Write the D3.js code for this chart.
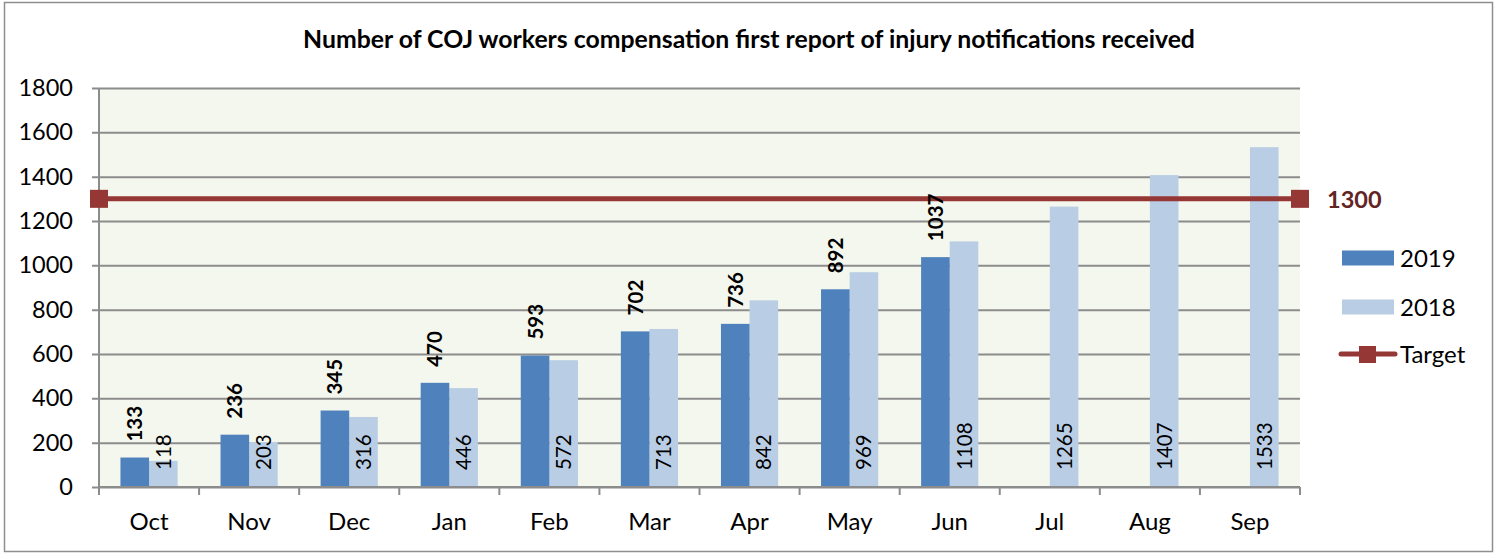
<!DOCTYPE html>
<html>
<head>
<meta charset="utf-8">
<script src="https://cdn.jsdelivr.net/npm/d3@7"></script>
<style>
  body { margin: 0; background: #fff; }
  svg { display: block; font-family: Lato, "Open Sans", sans-serif; }
</style>
</head>
<body>
<div id="container"></div>
<script>
const months = ["Oct", "Nov", "Dec", "Jan", "Feb", "Mar", "Apr", "May", "Jun", "Jul", "Aug", "Sep"];
const series = ["2019", "2018"];
const values2019 = [133, 236, 345, 470, 593, 702, 736, 892, 1037];
const values2018 = [118, 203, 316, 446, 572, 713, 842, 969, 1108, 1265, 1407, 1533];
const target = 1300;
const yTicks = [0, 200, 400, 600, 800, 1000, 1200, 1400, 1600, 1800];
const title = "Number of COJ workers compensation first report of injury notifications received";

const w = 1501;
const h = 554;
const plot = { left: 99, right: 1300, top: 88, bottom: 487 };
const colors = { "2019": "#4f81bd", "2018": "#b9cde5", target: "#953735" };

const svg = d3.select("div#container")
  .append("svg")
  .attr("width", w)
  .attr("height", h);

// chart border
svg.append("rect")
  .attr("x", 4.5).attr("y", 2.5)
  .attr("width", 1488).attr("height", 549)
  .attr("fill", "#fff")
  .attr("stroke", "#8e8e8e")
  .attr("stroke-width", 1.5);

svg.append("text")
  .attr("x", 749).attr("y", 48)
  .attr("text-anchor", "middle")
  .attr("font-weight", "bold")
  .attr("font-size", 24.8)
  .text(title);

const xScale = d3.scaleBand()
  .domain(months)
  .range([plot.left, plot.right]);

const xInner = d3.scaleBand()
  .domain(series)
  .range([0, xScale.bandwidth()])
  .paddingOuter(0.75);

const yScale = d3.scaleLinear()
  .domain([0, 1800])
  .range([plot.bottom, plot.top]);

// plot background
svg.append("rect")
  .attr("x", plot.left).attr("y", plot.top)
  .attr("width", plot.right - plot.left)
  .attr("height", plot.bottom - plot.top)
  .attr("fill", "#f4f7ee");

// y axis with gridlines
const yAxis = d3.axisLeft(yScale)
  .tickValues(yTicks)
  .tickSize(-(plot.right - plot.left))
  .tickPadding(26)
  .tickFormat(d3.format("d"));

const gy = svg.append("g")
  .attr("transform", "translate(" + plot.left + ",0)")
  .call(yAxis);
gy.select(".domain").remove();
gy.selectAll(".tick line")
  .attr("x1", -7)
  .attr("stroke", "#8c8c8c")
  .attr("stroke-width", 2);
gy.selectAll(".tick text")
  .attr("font-size", 23.5)
  .attr("font-family", "Lato, sans-serif")
  .attr("fill", "#000");

svg.append("line")
  .attr("x1", plot.left).attr("x2", plot.left)
  .attr("y1", plot.top).attr("y2", plot.bottom)
  .attr("stroke", "#8c8c8c")
  .attr("stroke-width", 2);

// 2018 bars
svg.selectAll("rect.b2018")
  .data(values2018)
  .enter()
  .append("rect")
  .classed("b2018", true)
  .attr("x", (d, i) => xScale(months[i]) + xInner("2018"))
  .attr("y", d => yScale(d))
  .attr("width", xInner.bandwidth())
  .attr("height", d => plot.bottom - yScale(d))
  .attr("fill", colors["2018"]);

// 2019 bars
svg.selectAll("rect.b2019")
  .data(values2019)
  .enter()
  .append("rect")
  .classed("b2019", true)
  .attr("x", (d, i) => xScale(months[i]) + xInner("2019"))
  .attr("y", d => yScale(d))
  .attr("width", xInner.bandwidth())
  .attr("height", d => plot.bottom - yScale(d))
  .attr("fill", colors["2019"]);

// x axis
const xTickPos = months.map(m => xScale(m)).concat([plot.right]);
svg.append("line")
  .attr("x1", plot.left).attr("x2", plot.right)
  .attr("y1", plot.bottom).attr("y2", plot.bottom)
  .attr("stroke", "#8c8c8c")
  .attr("stroke-width", 2);
svg.selectAll("line.xtick")
  .data(xTickPos)
  .enter()
  .append("line")
  .attr("x1", d => d).attr("x2", d => d)
  .attr("y1", plot.bottom).attr("y2", plot.bottom + 8)
  .attr("stroke", "#8c8c8c")
  .attr("stroke-width", 2);
svg.selectAll("text.month")
  .data(months)
  .enter()
  .append("text")
  .attr("x", d => xScale(d) + xScale.bandwidth() / 2)
  .attr("y", 530)
  .attr("text-anchor", "middle")
  .attr("font-size", 24)
  .text(d => d);

// target line
svg.append("line")
  .attr("x1", plot.left).attr("x2", plot.right)
  .attr("y1", yScale(target)).attr("y2", yScale(target))
  .attr("stroke", colors.target)
  .attr("stroke-width", 5);
svg.selectAll("rect.tmark")
  .data([plot.left, plot.right])
  .enter()
  .append("rect")
  .attr("x", d => d - 9)
  .attr("y", yScale(target) - 9)
  .attr("width", 18).attr("height", 18)
  .attr("fill", colors.target);
svg.append("text")
  .attr("x", 1327)
  .attr("y", yScale(target) + 9)
  .attr("font-size", 23.5)
  .attr("font-weight", "bold")
  .attr("fill", "#632523")
  .text(target);

// data labels (drawn on top)
svg.selectAll("text.l2019")
  .data(values2019)
  .enter()
  .append("text")
  .attr("transform", (d, i) => "translate(" + (xScale(months[i]) + xInner("2019") + xInner.bandwidth() / 2 + 7.5) + "," + (yScale(d) - 16) + ") rotate(-90)")
  .attr("font-size", 20.5)
  .attr("font-weight", "bold")
  .text(d => d);

svg.selectAll("text.l2018")
  .data(values2018)
  .enter()
  .append("text")
  .attr("transform", (d, i) => "translate(" + (xScale(months[i]) + xInner("2018") + xInner.bandwidth() / 2 + 7.5) + "," + (plot.bottom - 17) + ") rotate(-90)")
  .attr("font-size", 20.5)
  .text(d => d);

// legend
const legend = svg.append("g");
series.forEach((s, i) => {
  const cy = 258 + i * 49;
  legend.append("rect")
    .attr("x", 1342).attr("y", cy - 7.5)
    .attr("width", 52).attr("height", 15)
    .attr("fill", colors[s]);
  legend.append("text")
    .attr("x", 1400).attr("y", cy + 9)
    .attr("font-size", 24)
    .text(s);
});
legend.append("line")
  .attr("x1", 1341).attr("x2", 1395)
  .attr("y1", 354).attr("y2", 354)
  .attr("stroke", colors.target)
  .attr("stroke-width", 5)
  .attr("stroke-linecap", "round");
legend.append("rect")
  .attr("x", 1359).attr("y", 346)
  .attr("width", 17).attr("height", 17)
  .attr("fill", colors.target);
legend.append("text")
  .attr("x", 1400).attr("y", 363)
  .attr("font-size", 24)
  .text("Target");
</script>
</body>
</html>
